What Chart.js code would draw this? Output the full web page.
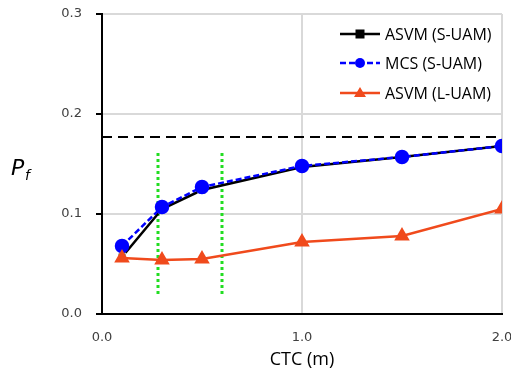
<!DOCTYPE html>
<html>
<head>
<meta charset="utf-8">
<script src="https://cdn.jsdelivr.net/npm/chart.js@4.4.1/dist/chart.umd.min.js"></script>
<style>
  html, body { margin: 0; padding: 0; background: #fff; }
  #wrap { width: 511px; height: 375px; }
</style>
</head>
<body>
<div id="wrap"><canvas id="pf-chart" width="511" height="375"></canvas></div>
<script>
// CTC values (m)
const ctc = [0.1, 0.3, 0.5, 1.0, 1.5, 2.0];

// failure probability series
const asvmSmall = [0.057, 0.105, 0.124, 0.147, 0.157, 0.168];
const mcsSmall = [0.068, 0.107, 0.127, 0.148, 0.157, 0.168];
const asvmLarge = [0.056, 0.054, 0.055, 0.072, 0.078, 0.105];

// reference lines
const limitPf = 0.177;
const limitSpan = [0, 2];
const greenX = [0.28, 0.6];
const greenSpan = [0.02, 0.162];

const seriesNames = ['ASVM (S-UAM)', 'MCS (S-UAM)', 'ASVM (L-UAM)'];
const xTicks = [0, 1, 2];
const yTicks = [0, 0.1, 0.2, 0.3];

const RED = '#f04a1c';
const BLUE = '#0000ff';

function toPoints(ys) {
  return ctc.map((x, i) => ({ x: x, y: ys[i] }));
}

// legend drawn as line + marker, like the original figure
const lineLegend = {
  id: 'lineLegend',
  afterDraw(chart) {
    const ctx = chart.ctx;
    const rows = [34, 63, 93];
    ctx.save();
    for (let i = 0; i < 3; i++) {
      const ds = chart.data.datasets[i];
      const y = rows[i];
      ctx.strokeStyle = ds.borderColor;
      ctx.lineWidth = 2.5;
      ctx.setLineDash(ds.borderDash || []);
      ctx.beginPath();
      ctx.moveTo(340, y);
      ctx.lineTo(380, y);
      ctx.stroke();
      ctx.setLineDash([]);
      ctx.fillStyle = ds.pointBackgroundColor;
      if (ds.pointStyle === 'rect') {
        ctx.fillRect(355.5, y - 4.5, 9, 9);
      } else if (ds.pointStyle === 'circle') {
        ctx.beginPath();
        ctx.arc(360, y, 5, 0, Math.PI * 2);
        ctx.fill();
      } else {
        ctx.beginPath();
        ctx.moveTo(360, y - 6);
        ctx.lineTo(366, y + 4);
        ctx.lineTo(354, y + 4);
        ctx.closePath();
        ctx.fill();
      }
      ctx.fillStyle = '#000';
      ctx.font = '16px "Open Sans", sans-serif';
      ctx.textAlign = 'left';
      ctx.textBaseline = 'middle';
      ctx.fillText(seriesNames[i], 385, y + 1);
    }

    // y axis title P_f
    ctx.fillStyle = '#000';
    ctx.textBaseline = 'alphabetic';
    ctx.font = 'italic 22px "DejaVu Sans", sans-serif';
    ctx.fillText('P', 11, 175);
    ctx.font = 'italic 14px "DejaVu Sans", sans-serif';
    ctx.fillText('f', 25, 180);
    ctx.restore();
  }
};

const ctx = document.getElementById('pf-chart').getContext('2d');

new Chart(ctx, {
  type: 'line',
  data: {
    datasets: [
      {
        label: seriesNames[0],
        data: toPoints(asvmSmall),
        borderColor: '#000',
        borderWidth: 2.5,
        pointStyle: 'rect',
        pointRadius: 5.5,
        pointBackgroundColor: '#000',
        pointBorderColor: '#fff',
        pointBorderWidth: 1,
        tension: 0,
        order: 3,
      },
      {
        label: seriesNames[1],
        data: toPoints(mcsSmall),
        borderColor: BLUE,
        borderWidth: 2.5,
        borderDash: [6, 3],
        pointStyle: 'circle',
        pointRadius: 6,
        pointBackgroundColor: BLUE,
        pointBorderColor: BLUE,
        tension: 0,
        order: 2,
      },
      {
        label: seriesNames[2],
        data: toPoints(asvmLarge),
        borderColor: RED,
        borderWidth: 2.5,
        pointStyle: 'triangle',
        pointRadius: 6.5,
        pointBackgroundColor: RED,
        pointBorderColor: RED,
        tension: 0,
        order: 1,
      },
      {
        label: 'limit',
        data: limitSpan.map((x) => ({ x: x, y: limitPf })),
        borderColor: '#000',
        borderWidth: 2,
        borderDash: [10, 6],
        pointRadius: 0,
        order: 4,
      },
      {
        label: 'g1',
        data: greenSpan.map((y) => ({ x: greenX[0], y: y })),
        borderColor: '#22dd22',
        borderWidth: 3,
        borderDash: [3, 3],
        pointRadius: 0,
        order: 5,
      },
      {
        label: 'g2',
        data: greenSpan.map((y) => ({ x: greenX[1], y: y })),
        borderColor: '#22dd22',
        borderWidth: 3,
        borderDash: [3, 3],
        pointRadius: 0,
        order: 5,
      },
    ],
  },
  options: {
    responsive: false,
    animation: false,
    layout: { padding: { top: 14, right: 9, left: 0, bottom: 0 } },
    plugins: {
      legend: { display: false },
      tooltip: { enabled: false },
    },
    scales: {
      x: {
        type: 'linear',
        min: 0,
        max: 2,
        afterBuildTicks: (scale) => {
          scale.ticks = xTicks.map((v) => ({ value: v }));
        },
        afterFit: (scale) => {
          scale.height = 61;
          scale.paddingRight = 0;
          scale.paddingLeft = 0;
        },
        ticks: {
          color: '#404040',
          font: { family: 'DejaVu Sans', size: 13 },
          padding: 16,
          maxRotation: 0,
          callback: (v) => Number(v).toFixed(1),
        },
        grid: {
          color: (c) => (c.tick && c.tick.value === 0 ? 'rgba(0,0,0,0)' : '#d9d9d9'),
          lineWidth: 2,
          drawTicks: false,
        },
        border: { color: '#000', width: 2 },
        title: {
          display: true,
          text: 'CTC (m)',
          color: '#000',
          font: { family: 'Open Sans', size: 18 },
          padding: { top: 2 },
        },
      },
      y: {
        min: 0,
        max: 0.3,
        afterBuildTicks: (scale) => {
          scale.ticks = yTicks.map((v) => ({ value: v }));
        },
        afterFit: (scale) => {
          scale.width = 102;
          scale.paddingTop = 0;
          scale.paddingBottom = 0;
        },
        ticks: {
          color: '#404040',
          font: { family: 'DejaVu Sans', size: 13 },
          padding: 14,
          callback: (v) => Number(v).toFixed(1),
        },
        grid: {
          color: (c) => (c.tick && c.tick.value === 0 ? 'rgba(0,0,0,0)' : '#d9d9d9'),
          lineWidth: 2,
          tickColor: '#000',
          tickLength: 6,
        },
        border: { color: '#000', width: 2 },
      },
    },
  },
  plugins: [lineLegend],
});
</script>
</body>
</html>
